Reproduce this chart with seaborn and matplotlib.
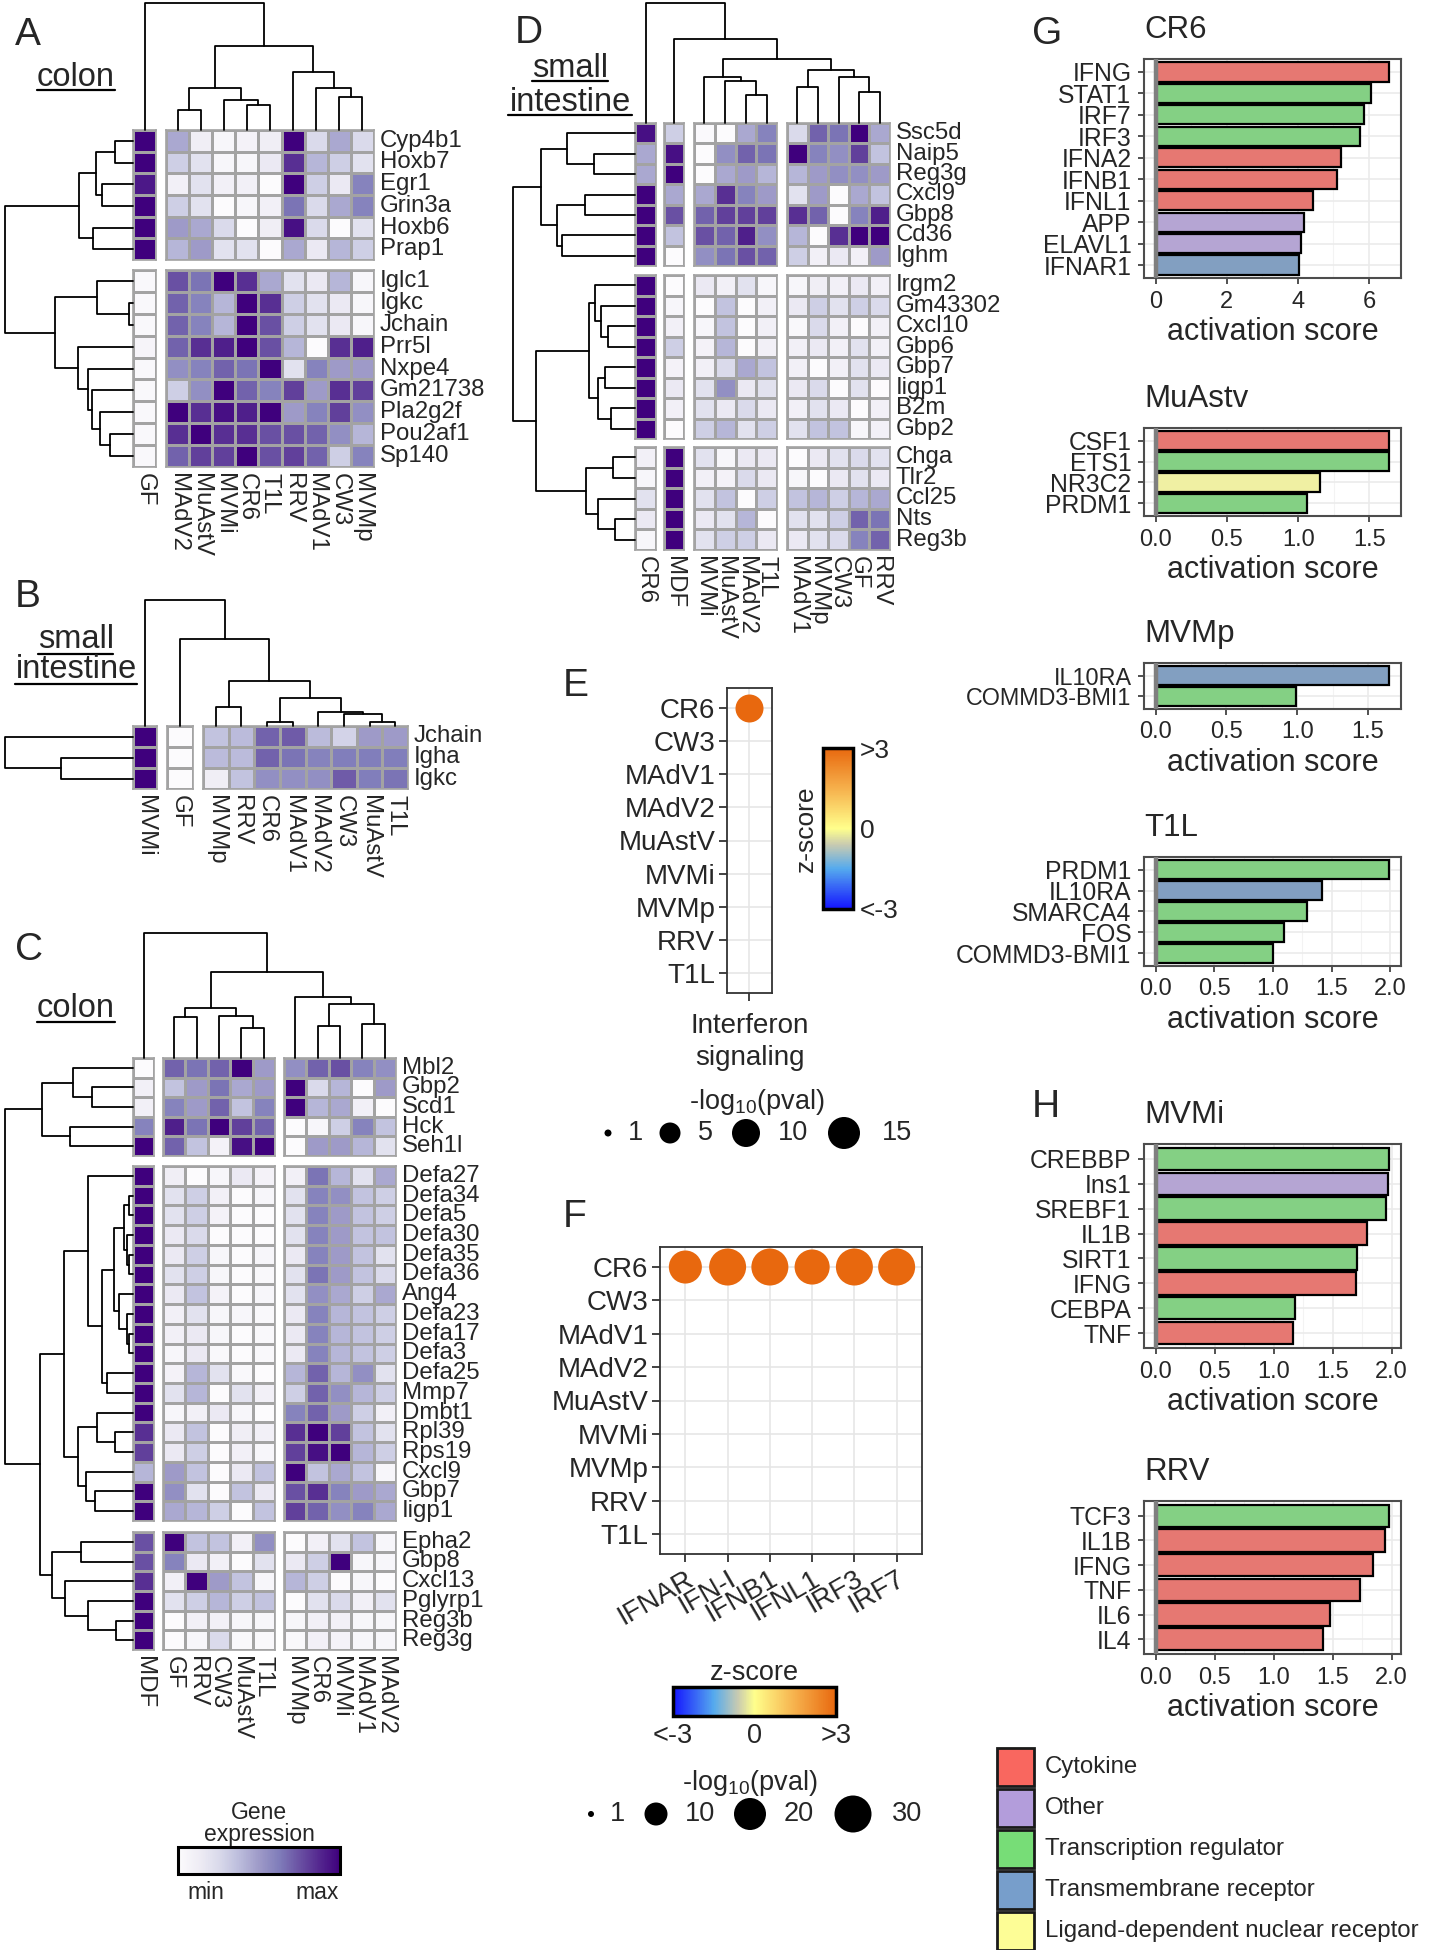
import numpy as np
import pandas as pd
import matplotlib
matplotlib.use("Agg")
import matplotlib.pyplot as plt
import seaborn as sns
from matplotlib.colors import LinearSegmentedColormap, Normalize
from matplotlib.cm import ScalarMappable
from matplotlib.patches import Rectangle
from matplotlib.ticker import MultipleLocator, FormatStrFormatter

sns.set_style("white")
plt.rcParams["font.family"] = ["Liberation Sans", "DejaVu Sans"]
plt.rcParams["mathtext.fontset"] = "custom"
plt.rcParams["mathtext.rm"] = "Liberation Sans"
plt.rcParams["mathtext.it"] = "Liberation Sans:italic"
plt.rcParams["mathtext.bf"] = "Liberation Sans:bold"

# ======================= DATA =======================
# ---- Panel A (colon) ----
A_cols = [["GF"], ["MAdV2", "MuAstV", "MVMi", "CR6", "T1L", "RRV", "MAdV1", "CW3", "MVMp"]]
A_rows = [["Cyp4b1", "Hoxb7", "Egr1", "Grin3a", "Hoxb6", "Prap1"],
          ["Iglc1", "Igkc", "Jchain", "Prr5l", "Nxpe4", "Gm21738", "Pla2g2f", "Pou2af1", "Sp140"]]
A_expr = [
    [1.00, 0.45, 0.12, 0.05, 0.08, 0.12, 1.00, 0.25, 0.45, 0.25],
    [1.00, 0.30, 0.20, 0.05, 0.05, 0.15, 0.85, 0.40, 0.30, 0.20],
    [0.92, 0.10, 0.20, 0.10, 0.10, 0.00, 1.00, 0.30, 0.15, 0.60],
    [1.00, 0.30, 0.20, 0.00, 0.05, 0.10, 0.65, 0.25, 0.45, 0.60],
    [1.00, 0.50, 0.45, 0.25, 0.00, 0.12, 0.95, 0.25, 0.00, 0.20],
    [1.00, 0.40, 0.50, 0.20, 0.20, 0.00, 0.45, 0.15, 0.40, 0.30],
    [0.03, 0.75, 0.65, 1.00, 0.85, 0.45, 0.20, 0.15, 0.40, 0.05],
    [0.03, 0.70, 0.60, 0.40, 1.00, 0.85, 0.30, 0.20, 0.15, 0.05],
    [0.03, 0.70, 0.60, 0.40, 1.00, 0.75, 0.30, 0.20, 0.15, 0.05],
    [0.06, 0.70, 0.85, 0.90, 1.00, 0.75, 0.40, 0.00, 0.85, 0.90],
    [0.03, 0.55, 0.60, 0.70, 0.65, 1.00, 0.20, 0.60, 0.50, 0.50],
    [0.03, 0.30, 0.55, 1.00, 0.70, 0.60, 0.80, 0.50, 0.85, 0.80],
    [0.03, 1.00, 0.85, 0.95, 0.90, 1.00, 0.50, 0.60, 0.80, 0.55],
    [0.03, 0.85, 1.00, 0.85, 0.85, 0.75, 0.75, 0.70, 0.55, 0.40],
    [0.03, 0.70, 0.80, 0.80, 1.00, 0.75, 0.80, 0.70, 0.30, 0.60],
]
A_col_tree = (1.0, "GF", (0.66, (0.33, (0.16, "MAdV2", "MuAstV"), (0.24, "MVMi", (0.20, "CR6", "T1L"))),
                          (0.46, "RRV", (0.33, "MAdV1", (0.26, "CW3", "MVMp")))))
A_row_tree = (1.0, (0.42, (0.29, (0.14, "Cyp4b1", "Hoxb7"), (0.24, "Egr1", "Grin3a")), (0.31, "Hoxb6", "Prap1")),
              (0.61, (0.28, "Iglc1", (0.03, "Igkc", "Jchain")),
               (0.43, "Prr5l", (0.35, "Nxpe4", (0.32, "Gm21738", (0.26, "Pla2g2f", (0.18, "Pou2af1", "Sp140")))))))

# ---- Panel B (small intestine) ----
B_cols = [["MVMi"], ["GF"], ["MVMp", "RRV", "CR6", "MAdV1", "MAdV2", "CW3", "MuAstV", "T1L"]]
B_rows = [["Jchain", "Igha", "Igkc"]]
B_expr = [
    [1.00, 0.00, 0.35, 0.38, 0.70, 0.72, 0.38, 0.28, 0.50, 0.50],
    [1.00, 0.00, 0.38, 0.38, 0.70, 0.65, 0.60, 0.62, 0.62, 0.62],
    [1.00, 0.00, 0.12, 0.35, 0.55, 0.55, 0.55, 0.72, 0.62, 0.65],
]
B_col_tree = (1.0, "MVMi", (0.69, "GF", (0.36, (0.15, "MVMp", "RRV"),
              (0.22, (0.03, "CR6", "MAdV1"), (0.11, "MAdV2", (0.095, "CW3", (0.03, "MuAstV", "T1L")))))))
B_row_tree = (1.0, "Jchain", (0.56, "Igha", "Igkc"))

# ---- Panel C (colon) ----
C_cols = [["MDF"], ["GF", "RRV", "CW3", "MuAstV", "T1L"], ["MVMp", "CR6", "MVMi", "MAdV1", "MAdV2"]]
C_rows = [["Mbl2", "Gbp2", "Scd1", "Hck", "Seh1l"],
          ["Defa27", "Defa34", "Defa5", "Defa30", "Defa35", "Defa36", "Ang4", "Defa23", "Defa17",
           "Defa3", "Defa25", "Mmp7", "Dmbt1", "Rpl39", "Rps19", "Cxcl9", "Gbp7", "Iigp1"],
          ["Epha2", "Gbp8", "Cxcl13", "Pglyrp1", "Reg3b", "Reg3g"]]
C_expr = [
    [0.00, 0.70, 0.65, 0.70, 1.00, 0.50, 0.55, 0.70, 0.75, 0.60, 0.55],
    [0.10, 0.35, 0.50, 0.65, 0.45, 0.50, 1.00, 0.25, 0.40, 0.00, 0.50],
    [0.10, 0.60, 0.50, 0.70, 0.35, 0.60, 1.00, 0.40, 0.45, 0.10, 0.00],
    [0.60, 0.90, 0.65, 1.00, 0.80, 0.70, 0.00, 0.05, 0.30, 0.60, 0.35],
    [1.00, 0.70, 0.35, 0.08, 0.95, 1.00, 0.00, 0.50, 0.50, 0.40, 0.20],
    [1.00, 0.12, 0.00, 0.05, 0.15, 0.08, 0.10, 0.65, 0.40, 0.20, 0.45],
    [1.00, 0.20, 0.30, 0.10, 0.00, 0.05, 0.20, 0.60, 0.55, 0.35, 0.30],
    [1.00, 0.20, 0.30, 0.08, 0.00, 0.00, 0.20, 0.60, 0.50, 0.35, 0.30],
    [1.00, 0.15, 0.25, 0.00, 0.00, 0.00, 0.20, 0.60, 0.50, 0.35, 0.35],
    [1.00, 0.15, 0.30, 0.05, 0.00, 0.05, 0.15, 0.60, 0.50, 0.35, 0.20],
    [1.00, 0.20, 0.30, 0.05, 0.00, 0.03, 0.20, 0.65, 0.50, 0.35, 0.25],
    [1.00, 0.15, 0.35, 0.08, 0.00, 0.05, 0.20, 0.55, 0.45, 0.30, 0.45],
    [1.00, 0.10, 0.20, 0.05, 0.05, 0.03, 0.15, 0.60, 0.40, 0.35, 0.30],
    [1.00, 0.10, 0.15, 0.05, 0.00, 0.03, 0.15, 0.60, 0.40, 0.35, 0.30],
    [1.00, 0.05, 0.15, 0.03, 0.00, 0.03, 0.15, 0.60, 0.40, 0.35, 0.30],
    [1.00, 0.08, 0.40, 0.20, 0.03, 0.00, 0.40, 0.70, 0.40, 0.55, 0.20],
    [1.00, 0.20, 0.40, 0.00, 0.20, 0.10, 0.30, 0.70, 0.55, 0.40, 0.30],
    [1.00, 0.05, 0.10, 0.15, 0.05, 0.00, 0.60, 0.70, 0.50, 0.30, 0.10],
    [0.85, 0.15, 0.35, 0.00, 0.12, 0.10, 0.85, 1.00, 0.80, 0.35, 0.20],
    [0.80, 0.15, 0.30, 0.00, 0.10, 0.05, 0.80, 0.95, 1.00, 0.40, 0.30],
    [0.40, 0.50, 0.35, 0.00, 0.15, 0.35, 1.00, 0.35, 0.45, 0.35, 0.05],
    [1.00, 0.55, 0.20, 0.00, 0.35, 0.15, 0.75, 0.85, 0.60, 0.50, 0.45],
    [1.00, 0.45, 0.40, 0.30, 0.00, 0.35, 0.80, 0.70, 0.55, 0.60, 0.45],
    [0.75, 1.00, 0.35, 0.35, 0.10, 0.55, 0.00, 0.10, 0.20, 0.35, 0.05],
    [0.75, 0.60, 0.15, 0.10, 0.00, 0.20, 0.15, 0.30, 1.00, 0.05, 0.05],
    [0.85, 0.10, 1.00, 0.50, 0.35, 0.05, 0.40, 0.30, 0.00, 0.05, 0.00],
    [1.00, 0.20, 0.30, 0.40, 0.30, 0.35, 0.00, 0.20, 0.25, 0.10, 0.20],
    [1.00, 0.00, 0.10, 0.10, 0.05, 0.05, 0.05, 0.10, 0.10, 0.05, 0.05],
    [1.00, 0.00, 0.05, 0.25, 0.03, 0.03, 0.03, 0.10, 0.08, 0.05, 0.05],
]
C_col_tree = (1.0, "MDF", (0.69, (0.40, (0.33, "GF", "RRV"), (0.34, "CW3", (0.24, "MuAstV", "T1L"))),
                           (0.49, "MVMp", (0.43, (0.26, "CR6", "MVMi"), (0.27, "MAdV1", "MAdV2")))))
C_row_tree = (1.0,
              (0.71, (0.47, "Mbl2", (0.32, "Gbp2", "Scd1")), (0.49, "Hck", "Seh1l")),
              (0.73,
               (0.54,
                (0.35, "Defa27",
                 (0.24, (0.15, (0.07, (0.03, "Defa34", "Defa5"), (0.05, "Defa30", (0.03, "Defa35", "Defa36"))),
                         (0.11, "Ang4", (0.05, "Defa23", (0.03, "Defa17", "Defa3")))),
                  (0.20, "Defa25", "Mmp7"))),
                (0.43, (0.28, "Dmbt1", (0.14, "Rpl39", "Rps19")), (0.37, "Cxcl9", (0.30, "Gbp7", "Iigp1")))),
               (0.63, (0.41, "Epha2", "Gbp8"), (0.53, "Cxcl13", (0.35, "Pglyrp1", (0.13, "Reg3b", "Reg3g"))))))

# ---- Panel D (small intestine) ----
D_cols = [["CR6"], ["MDF"], ["MVMi", "MuAstV", "MAdV2", "T1L"], ["MAdV1", "MVMp", "CW3", "GF", "RRV"]]
D_rows = [["Ssc5d", "Naip5", "Reg3g", "Cxcl9", "Gbp8", "Cd36", "Ighm"],
          ["Irgm2", "Gm43302", "Cxcl10", "Gbp6", "Gbp7", "Iigp1", "B2m", "Gbp2"],
          ["Chga", "Tlr2", "Ccl25", "Nts", "Reg3b"]]
D_expr = [
    [0.95, 0.30, 0.02, 0.00, 0.45, 0.60, 0.25, 0.70, 0.65, 1.00, 0.45],
    [0.45, 0.95, 0.00, 0.55, 0.70, 0.65, 1.00, 0.60, 0.55, 0.80, 0.35],
    [0.45, 1.00, 0.00, 0.45, 0.50, 0.40, 0.40, 0.50, 0.55, 0.55, 0.50],
    [1.00, 0.45, 0.45, 0.85, 0.60, 0.50, 0.20, 0.50, 0.00, 0.45, 0.35],
    [1.00, 0.75, 0.70, 0.80, 0.80, 0.80, 0.85, 0.70, 0.00, 0.60, 0.90],
    [1.00, 0.35, 0.75, 0.70, 0.90, 0.55, 0.40, 0.00, 0.85, 1.00, 1.00],
    [1.00, 0.00, 0.55, 0.65, 0.75, 0.70, 0.30, 0.10, 0.15, 0.10, 0.50],
    [1.00, 0.00, 0.15, 0.10, 0.20, 0.05, 0.05, 0.12, 0.10, 0.15, 0.10],
    [1.00, 0.05, 0.00, 0.35, 0.00, 0.10, 0.15, 0.30, 0.20, 0.30, 0.25],
    [1.00, 0.10, 0.05, 0.35, 0.00, 0.10, 0.03, 0.25, 0.10, 0.00, 0.10],
    [1.00, 0.30, 0.08, 0.40, 0.00, 0.10, 0.10, 0.15, 0.10, 0.20, 0.10],
    [1.00, 0.08, 0.10, 0.25, 0.45, 0.35, 0.10, 0.00, 0.10, 0.20, 0.15],
    [1.00, 0.15, 0.20, 0.55, 0.15, 0.20, 0.15, 0.25, 0.00, 0.20, 0.00],
    [1.00, 0.10, 0.20, 0.15, 0.25, 0.15, 0.10, 0.20, 0.15, 0.00, 0.10],
    [1.00, 0.00, 0.30, 0.40, 0.20, 0.30, 0.20, 0.35, 0.35, 0.05, 0.10],
    [0.10, 1.00, 0.20, 0.05, 0.15, 0.15, 0.00, 0.15, 0.20, 0.25, 0.20],
    [0.05, 1.00, 0.10, 0.08, 0.25, 0.15, 0.05, 0.00, 0.15, 0.20, 0.15],
    [0.20, 1.00, 0.20, 0.35, 0.00, 0.30, 0.35, 0.40, 0.30, 0.40, 0.45],
    [0.15, 1.00, 0.15, 0.20, 0.40, 0.00, 0.20, 0.20, 0.30, 0.70, 0.65],
    [0.05, 1.00, 0.20, 0.30, 0.30, 0.15, 0.15, 0.20, 0.25, 0.60, 0.70],
]
D_col_tree = (1.0, "CR6", (0.70, "MDF", (0.53, (0.38, "MVMi", (0.35, "MuAstV", (0.23, "MAdV2", "T1L"))),
                                         (0.44, (0.30, "MAdV1", "MVMp"), (0.38, "CW3", (0.26, "GF", "RRV"))))))
D_row_tree = (1.0,
              (0.77, (0.56, "Ssc5d", (0.34, "Naip5", "Reg3g")), (0.64, (0.41, "Cxcl9", "Gbp8"), (0.60, "Cd36", "Ighm"))),
              (0.81, (0.38, (0.33, "Irgm2", (0.28, "Gm43302", (0.22, "Cxcl10", "Gbp6"))),
                      (0.30, (0.25, "Gbp7", "Iigp1"), (0.20, "B2m", "Gbp2"))),
               (0.40, (0.18, "Chga", "Tlr2"), (0.30, "Ccl25", (0.16, "Nts", "Reg3b")))))

# ---- Panel E / F (IPA dot plots) ----
VIRUSES = ["CR6", "CW3", "MAdV1", "MAdV2", "MuAstV", "MVMi", "MVMp", "RRV", "T1L"]
E_pathway = ["Interferon\nsignaling"]
E_zscore = [3.0, np.nan, np.nan, np.nan, np.nan, np.nan, np.nan, np.nan, np.nan]
E_logp = [10.0, np.nan, np.nan, np.nan, np.nan, np.nan, np.nan, np.nan, np.nan]
E_size_breaks = [1, 5, 10, 15]
E_size_px = [7, 21, 28, 32]

F_targets = ["IFNAR", "IFN-I", "IFNB1", "IFNL1", "IRF3", "IRF7"]
F_zscore_CR6 = [3.0, 3.0, 3.0, 3.0, 3.0, 3.0]
F_logp_CR6 = [22, 30, 30, 26, 30, 30]
F_size_breaks = [1, 10, 20, 30]
F_size_px = [6, 23, 32, 37]

# ---- Panel G / H (upstream regulators) ----
G_CR6_genes = ["IFNG", "STAT1", "IRF7", "IRF3", "IFNA2", "IFNB1", "IFNL1", "APP", "ELAVL1", "IFNAR1"]
G_CR6_score = [6.57, 6.06, 5.85, 5.75, 5.21, 5.10, 4.41, 4.17, 4.10, 4.03]
G_CR6_type = ["Cytokine", "Transcription regulator", "Transcription regulator", "Transcription regulator",
              "Cytokine", "Cytokine", "Cytokine", "Other", "Other", "Transmembrane receptor"]
G_MuAstv_genes = ["CSF1", "ETS1", "NR3C2", "PRDM1"]
G_MuAstv_score = [1.64, 1.64, 1.15, 1.06]
G_MuAstv_type = ["Cytokine", "Transcription regulator", "Ligand-dependent nuclear receptor", "Transcription regulator"]
G_MVMp_genes = ["IL10RA", "COMMD3-BMI1"]
G_MVMp_score = [1.65, 0.99]
G_MVMp_type = ["Transmembrane receptor", "Transcription regulator"]
G_T1L_genes = ["PRDM1", "IL10RA", "SMARCA4", "FOS", "COMMD3-BMI1"]
G_T1L_score = [1.99, 1.42, 1.29, 1.09, 1.00]
G_T1L_type = ["Transcription regulator", "Transmembrane receptor", "Transcription regulator",
              "Transcription regulator", "Transcription regulator"]
H_MVMi_genes = ["CREBBP", "Ins1", "SREBF1", "IL1B", "SIRT1", "IFNG", "CEBPA", "TNF"]
H_MVMi_score = [1.98, 1.97, 1.95, 1.79, 1.71, 1.70, 1.18, 1.16]
H_MVMi_type = ["Transcription regulator", "Other", "Transcription regulator", "Cytokine",
               "Transcription regulator", "Cytokine", "Transcription regulator", "Cytokine"]
H_RRV_genes = ["TCF3", "IL1B", "IFNG", "TNF", "IL6", "IL4"]
H_RRV_score = [1.98, 1.94, 1.84, 1.73, 1.48, 1.42]
H_RRV_type = ["Transcription regulator", "Cytokine", "Cytokine", "Cytokine", "Cytokine", "Cytokine"]

CAT_ORDER = ["Cytokine", "Other", "Transcription regulator", "Transmembrane receptor",
             "Ligand-dependent nuclear receptor"]
CAT_COLORS = {"Cytokine": "#F9675F", "Other": "#B39DDB", "Transcription regulator": "#77DD77",
              "Transmembrane receptor": "#779ECB", "Ligand-dependent nuclear receptor": "#FDFD96"}

# ======================= STYLE / LAYOUT =======================
W, H = 1430, 1950
fig = plt.figure(figsize=(W / 100, H / 100), dpi=100)
ov = fig.add_axes([0, 0, 1, 1])
ov.set_xlim(0, W)
ov.set_ylim(H, 0)
ov.axis("off")


def px_axes(x0, y0, x1, y1):
    return fig.add_axes([x0 / W, 1 - y1 / H, (x1 - x0) / W, (y1 - y0) / H])


HEAT_CMAP = plt.get_cmap("Purples")
CELL_LINE = "#A3A3A3"
HEAT_FS = 17.3
DOT_FS = 20
Z_CMAP = LinearSegmentedColormap.from_list(
    "zscore", [(0.0, "#1414FF"), (0.25, "#55AAEE"), (0.4, "#C9CBB0"), (0.5, "#FFFF8C"),
               (0.75, "#F6B04C"), (1.0, "#E8680E")])
Z_NORM = Normalize(-3, 3)


def draw_tree(ax, node, pos, vertical):
    if isinstance(node, str):
        return pos[node], 0.0
    h, a, b = node
    pa, ha = draw_tree(ax, a, pos, vertical)
    pb, hb = draw_tree(ax, b, pos, vertical)
    p = [pa, pa, pb, pb]
    q = [ha, h, h, hb]
    if vertical:
        ax.plot(p, q, color="black", lw=1.3, clip_on=False)
    else:
        ax.plot(q, p, color="black", lw=1.3, clip_on=False)
    return (pa + pb) / 2, h


def heat_panel(values, row_blocks, col_blocks, geo, col_tree, row_tree):
    rows = sum(row_blocks, [])
    cols = sum(col_blocks, [])
    df = pd.DataFrame(np.array(values), index=rows, columns=cols)
    nr, nc = len(row_blocks), len(col_blocks)
    for i, (rb, (y0, y1)) in enumerate(zip(row_blocks, geo["rows"])):
        for j, (cb, (x0, x1)) in enumerate(zip(col_blocks, geo["cols"])):
            ax = px_axes(x0, y0, x1, y1)
            sns.heatmap(df.loc[rb, cb], ax=ax, cmap=HEAT_CMAP, vmin=0, vmax=1, cbar=False,
                        linewidths=0.9, linecolor=CELL_LINE,
                        xticklabels=cb if i == nr - 1 else False,
                        yticklabels=rb if j == nc - 1 else False)
            for s in ax.spines.values():
                s.set_visible(True)
                s.set_color(CELL_LINE)
                s.set_linewidth(1.2)
            ax.set_xlabel("")
            ax.set_ylabel("")
            if i == nr - 1:
                ax.tick_params(axis="x", length=0, pad=4, labelsize=HEAT_FS)
                for t in ax.get_xticklabels():
                    t.set_rotation(270)
                    t.set_ha("center")
                    t.set_va("top")
            if j == nc - 1:
                ax.yaxis.tick_right()
                ax.tick_params(axis="y", length=0, pad=4, labelsize=HEAT_FS,
                               labelright=True, labelleft=False)
                for t in ax.get_yticklabels():
                    t.set_rotation(0)
                    t.set_va("center")
    # leaf positions
    cpos, rpos = {}, {}
    for cb, (x0, x1) in zip(col_blocks, geo["cols"]):
        w = (x1 - x0) / len(cb)
        for k, n in enumerate(cb):
            cpos[n] = x0 + (k + 0.5) * w
    for rb, (y0, y1) in zip(row_blocks, geo["rows"]):
        hgt = (y1 - y0) / len(rb)
        for k, n in enumerate(rb):
            rpos[n] = y0 + (k + 0.5) * hgt
    xl, xr = geo["cols"][0][0], geo["cols"][-1][1]
    yt, yb = geo["rows"][0][0], geo["rows"][-1][1]
    axc = px_axes(xl, geo["cden"][0], xr, geo["cden"][1])
    axc.set_xlim(xl, xr)
    axc.set_ylim(0, 1)
    axc.axis("off")
    draw_tree(axc, col_tree, cpos, True)
    axr = px_axes(geo["rden"][0], yt, geo["rden"][1], yb)
    axr.set_xlim(1, 0)
    axr.set_ylim(yb, yt)
    axr.axis("off")
    draw_tree(axr, row_tree, rpos, False)


heat_panel(A_expr, A_rows, A_cols,
           dict(cols=[(133, 156), (166, 374)], rows=[(130, 260), (270, 467)], cden=(3, 130), rden=(5, 133)),
           A_col_tree, A_row_tree)
heat_panel(B_expr, B_rows, B_cols,
           dict(cols=[(133, 157), (167, 193), (203, 408)], rows=[(726, 789)], cden=(600, 726), rden=(5, 133)),
           B_col_tree, B_row_tree)
heat_panel(C_expr, C_rows, C_cols,
           dict(cols=[(133, 154), (163, 275), (284, 396)], rows=[(1058, 1156), (1166, 1521), (1532, 1650)],
                cden=(933, 1058), rden=(5, 133)),
           C_col_tree, C_row_tree)
heat_panel(D_expr, D_rows, D_cols,
           dict(cols=[(635, 656), (664, 684), (694, 777), (787, 890)], rows=[(123, 266), (275, 439), (447, 550)],
                cden=(3, 123), rden=(513, 635)),
           D_col_tree, D_row_tree)

# gene expression colour key
cax = px_axes(178, 1847, 340, 1874)
cb = fig.colorbar(ScalarMappable(norm=Normalize(0, 1), cmap=HEAT_CMAP), cax=cax, orientation="horizontal",
                  ticks=[0.17, 0.86])
cb.ax.set_xticklabels(["min", "max"], fontsize=16.5)
cb.ax.tick_params(length=0, pad=5)
cb.outline.set_linewidth(2.2)
cb.outline.set_edgecolor("black")
cb.ax.set_title("Gene\nexpression", fontsize=16.5, pad=4, linespacing=0.95)

# panel letters and tissue labels
for letter, x, y in [("A", 15, 45), ("B", 15, 607), ("C", 15, 960), ("D", 515, 43),
                     ("E", 563, 696), ("F", 563, 1227), ("G", 1032, 44), ("H", 1032, 1117)]:
    ov.text(x, y, letter, fontsize=28, va="baseline", ha="left")
for txt, xc, base, x0, x1, uy in [("colon", 76, 86, 37, 115, 90),
                                  ("small", 76, 648, 38, 113, 654), ("intestine", 76, 678, 15, 137, 684),
                                  ("colon", 76, 1017, 37, 115, 1022),
                                  ("small", 570, 77, 532, 608, 81), ("intestine", 570, 111, 508, 632, 115)]:
    ov.text(xc, base, txt, fontsize=23.5, ha="center", va="baseline")
    ov.plot([x0, x1], [uy, uy], color="black", lw=1.6)


# ---------- dot plots ----------
def diam_to_s(d):
    return (np.asarray(d, dtype=float) * 0.72) ** 2


def size_from(v, breaks, px):
    area = np.interp(v, breaks, np.asarray(px, dtype=float) ** 2)
    return diam_to_s(np.sqrt(area))


def style_dot_axes(ax):
    for s in ax.spines.values():
        s.set_visible(True)
        s.set_color("#333333")
        s.set_linewidth(1.3)
    ax.grid(True, color="#E6E6E6", lw=1.2)
    ax.set_axisbelow(True)
    ax.tick_params(axis="both", bottom=True, left=True, length=5.5, width=1.3, color="#333333",
                   labelsize=DOT_FS, pad=3)


axE = px_axes(727, 688, 772, 993)
ez = np.array(E_zscore)
ep = np.array(E_logp)
ok = ~np.isnan(ep)
axE.scatter(np.zeros(ok.sum()), np.arange(len(VIRUSES))[ok], s=size_from(ep[ok], E_size_breaks, E_size_px),
            c=ez[ok], cmap=Z_CMAP, norm=Z_NORM, linewidths=0, zorder=3)
axE.set_xlim(-0.6, 0.6)
axE.set_ylim(len(VIRUSES) - 0.4, -0.6)
axE.set_yticks(range(len(VIRUSES)))
axE.set_yticklabels(VIRUSES)
axE.set_xticks([0])
axE.set_xticklabels(E_pathway, linespacing=1.3)
style_dot_axes(axE)
axE.tick_params(axis="x", pad=9)

cbE_ax = px_axes(823, 748, 853, 909)
cbE = fig.colorbar(ScalarMappable(norm=Z_NORM, cmap=Z_CMAP), cax=cbE_ax, orientation="vertical", ticks=[-3, 0, 3])
cbE.ax.set_yticklabels(["<-3", "0", ">3"], fontsize=19)
cbE.ax.tick_params(length=0, pad=5)
cbE.outline.set_linewidth(2.5)
cbE.outline.set_edgecolor("black")
cbE.ax.yaxis.set_label_position("left")
cbE.set_label("z-score", fontsize=19, labelpad=4)

ov.text(757, 1102, r"-log$_{10}$(pval)", fontsize=19.5, ha="center", va="center")
ov.scatter([608, 670, 746, 844], [1133] * 4, s=size_from(E_size_breaks, E_size_breaks, E_size_px),
           color="black", linewidths=0)
for b, x in zip(E_size_breaks, [635, 705, 793, 897]):
    ov.text(x, 1133, str(b), fontsize=19.5, ha="center", va="center")

axF = px_axes(660, 1247, 922, 1554)
fx = np.arange(len(F_targets))
axF.scatter(fx, np.zeros(len(fx)), s=size_from(F_logp_CR6, F_size_breaks, F_size_px),
            c=F_zscore_CR6, cmap=Z_CMAP, norm=Z_NORM, linewidths=0, zorder=3)
axF.set_xlim(-0.6, len(F_targets) - 0.4)
axF.set_ylim(len(VIRUSES) - 0.4, -0.6)
axF.set_yticks(range(len(VIRUSES)))
axF.set_yticklabels(VIRUSES)
axF.set_xticks(fx)
axF.set_xticklabels(F_targets, rotation=30, ha="right", va="top", rotation_mode="anchor")
style_dot_axes(axF)

cbF_ax = px_axes(673, 1687, 836, 1716)
cbF = fig.colorbar(ScalarMappable(norm=Z_NORM, cmap=Z_CMAP), cax=cbF_ax, orientation="horizontal", ticks=[-3, 0, 3])
cbF.ax.set_xticklabels(["<-3", "0", ">3"], fontsize=19.5)
cbF.ax.tick_params(length=0, pad=5)
cbF.outline.set_linewidth(2.5)
cbF.outline.set_edgecolor("black")
cbF.ax.set_title("z-score", fontsize=19.5, pad=5)

ov.text(750, 1783, r"-log$_{10}$(pval)", fontsize=19.5, ha="center", va="center")
ov.scatter([591, 656, 750, 853], [1814] * 4, s=size_from(F_size_breaks, F_size_breaks, F_size_px),
           color="black", linewidths=0)
for b, x in zip(F_size_breaks, [617, 700, 799, 907]):
    ov.text(x, 1814, str(b), fontsize=19.5, ha="center", va="center")


# ---------- bar panels ----------
def bar_panel(box, title, genes, scores, types, major, ylab_fs=17.8):
    ax = px_axes(*box)
    sns.barplot(x=scores, y=genes, hue=types, palette=CAT_COLORS, dodge=False, width=0.9,
                edgecolor="black", linewidth=1.6, orient="h", legend=False, order=genes, ax=ax)
    m = max(scores)
    ax.set_xlim(-0.05 * m, 1.05 * m)
    ax.set_ylim(len(genes) - 0.4, -0.6)
    ax.axvline(0, color="#7F7F7F", lw=3.2, zorder=4)
    ax.xaxis.set_major_locator(MultipleLocator(major))
    ax.xaxis.set_minor_locator(MultipleLocator(major / 2))
    ax.xaxis.set_major_formatter(FormatStrFormatter("%d" if major >= 1 else "%.1f"))
    ax.grid(True, which="major", axis="both", color="#EBEBEB", lw=1.2)
    ax.grid(True, which="minor", axis="x", color="#F3F3F3", lw=0.8)
    ax.set_axisbelow(True)
    for s in ax.spines.values():
        s.set_visible(True)
        s.set_color("#4D4D4D")
        s.set_linewidth(1.5)
    ax.tick_params(axis="x", which="major", bottom=True, length=4, width=1.2,
                   color="#333333", labelsize=17, pad=5)
    ax.tick_params(axis="y", which="major", left=True, length=4, width=1.2,
                   color="#333333", labelsize=ylab_fs, pad=5)
    ax.tick_params(axis="x", which="minor", bottom=False)
    ax.set_title(title, loc="left", fontsize=22.5, pad=15)
    ax.set_xlabel("activation score", fontsize=22, labelpad=3)
    ax.set_ylabel("")
    return ax


bar_panel((1144, 59, 1401, 278), "CR6", G_CR6_genes, G_CR6_score, G_CR6_type, 2)
bar_panel((1144, 428, 1401, 516), "MuAstv", G_MuAstv_genes, G_MuAstv_score, G_MuAstv_type, 0.5)
bar_panel((1144, 663, 1401, 709), "MVMp", G_MVMp_genes, G_MVMp_score, G_MVMp_type, 0.5, ylab_fs=16.8)
bar_panel((1144, 857, 1401, 966), "T1L", G_T1L_genes, G_T1L_score, G_T1L_type, 0.5)
bar_panel((1144, 1144, 1401, 1348), "MVMi", H_MVMi_genes, H_MVMi_score, H_MVMi_type, 0.5)
bar_panel((1144, 1501, 1401, 1654), "RRV", H_RRV_genes, H_RRV_score, H_RRV_type, 0.5)

# category legend
for i, cat in enumerate(CAT_ORDER):
    yc = 1767 + i * 41
    ov.add_patch(Rectangle((997, yc - 19), 37, 38, facecolor=CAT_COLORS[cat], edgecolor="#1A1A1A", lw=2))
    ov.text(1045, yc, cat, fontsize=17.3, ha="left", va="center")

fig.savefig("out.png", dpi=100, facecolor="white")
